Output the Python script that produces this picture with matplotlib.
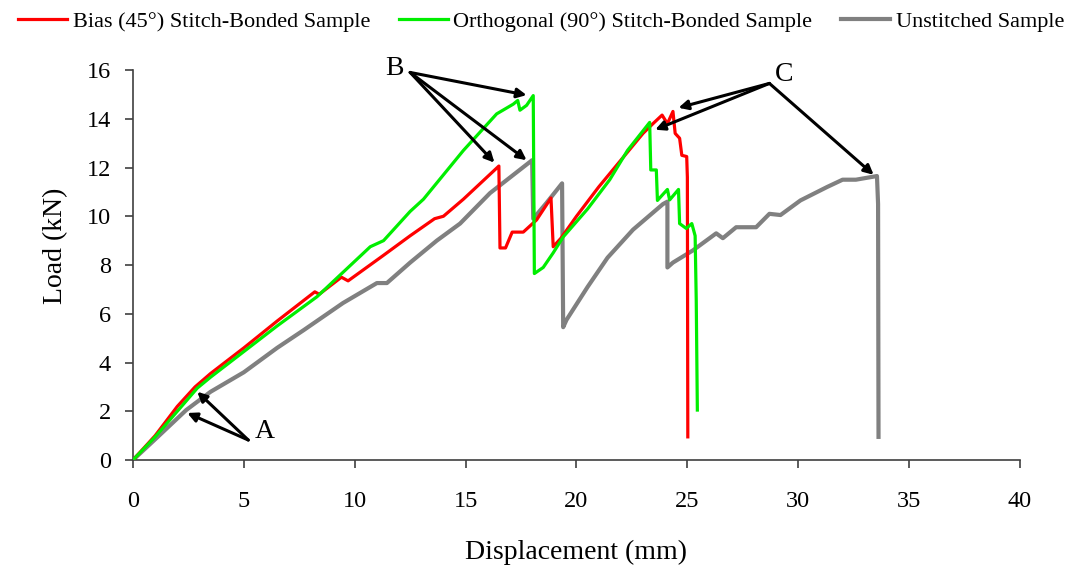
import matplotlib
matplotlib.use("Agg")
import matplotlib.pyplot as plt

plt.rcParams['font.family'] = ['Liberation Serif', 'DejaVu Serif']

# Bias (45°) stitch-bonded sample
bias_x = [0, 1.0, 2.0, 2.8, 3.5, 5.0, 6.5, 8.2, 8.4, 9.4, 9.7, 11.3, 12.5, 13.6, 14.0,
          14.9, 16.5, 16.55, 16.8, 17.1, 17.6, 18.2, 18.85, 18.95, 19.3, 20.0, 21.0,
          22.0, 23.0, 23.45, 23.86, 24.1, 24.35, 24.45, 24.65, 24.75, 24.97, 25.0, 25.02]
bias_y = [0, 1.0, 2.2, 3.0, 3.55, 4.6, 5.7, 6.9, 6.8, 7.5, 7.35, 8.4, 9.2, 9.9, 10.0,
          10.7, 12.06, 8.7, 8.7, 9.35, 9.35, 9.85, 10.75, 8.75, 9.1, 10.0, 11.2,
          12.3, 13.4, 13.8, 14.15, 13.8, 14.3, 13.4, 13.2, 12.5, 12.45, 11.6, 0.95]

# Orthogonal (90°) stitch-bonded sample
orth_x = [0, 1.0, 2.0, 2.9, 3.5, 5.0, 6.5, 8.3, 10.7, 11.3, 12.5, 13.1, 14.9, 16.4,
          17.15, 17.35, 17.45, 17.75, 18.05, 18.1, 18.5, 18.95, 19.4, 20.5, 21.5,
          22.3, 23.3, 23.35, 23.6, 23.65, 24.1, 24.2, 24.6, 24.65, 24.95, 25.2, 25.35,
          25.4, 25.45]
orth_y = [0, 0.95, 2.0, 2.95, 3.4, 4.45, 5.5, 6.7, 8.75, 9.0, 10.2, 10.7, 12.7, 14.2,
          14.6, 14.75, 14.35, 14.55, 14.95, 7.65, 7.9, 8.5, 9.15, 10.3, 11.5,
          12.7, 13.85, 11.9, 11.9, 10.65, 11.1, 10.67, 11.1, 9.7, 9.5, 9.7, 9.2,
          6.55, 2.05]

# Unstitched sample
uns_x = [0, 1.0, 2.4, 3.5, 5.0, 6.5, 7.7, 9.47, 11.0, 11.45, 12.5, 13.7, 14.75, 16.1,
         18.0, 18.05, 18.65, 19.35, 19.4, 19.55, 20.5, 21.4, 22.55, 23.9, 24.1, 24.1,
         24.35, 25.25, 26.3, 26.6, 27.2, 28.1, 28.7, 29.2, 30.1, 31.3, 32.0, 32.6,
         33.55, 33.6, 33.62]
uns_y = [0, 0.85, 2.05, 2.8, 3.6, 4.6, 5.33, 6.44, 7.26, 7.26, 8.1, 9.0, 9.7, 10.95,
         12.3, 9.9, 10.55, 11.35, 5.45, 5.75, 7.1, 8.3, 9.45, 10.5, 10.6, 7.9,
         8.1, 8.6, 9.3, 9.1, 9.55, 9.55, 10.1, 10.05, 10.65, 11.2, 11.5, 11.5,
         11.65, 10.5, 0.95]

fig = plt.figure(figsize=(10.82, 5.65), dpi=100)
ax = fig.add_axes([0.1229, 0.1858, 0.8198, 0.6903])

ax.plot(uns_x, uns_y, color='#808080', lw=3.0, label='Unstitched Sample', zorder=2)
ax.plot(bias_x, bias_y, color='#ff0000', lw=2.3, label='Bias (45°) Stitch-Bonded Sample', zorder=3)
ax.plot(orth_x, orth_y, color='#00ee00', lw=2.3, label='Orthogonal (90°) Stitch-Bonded Sample', zorder=3)

ax.set_xlim(0, 40)
ax.set_ylim(0, 16)
ax.set_xticks(range(0, 41, 5))
ax.set_yticks(range(0, 17, 2))
ax.tick_params(labelsize=17.5, direction='out', length=6, width=1.2, color='#404040')
ax.tick_params(axis='x', pad=16)
ax.tick_params(axis='y', pad=10)
for s in ['top', 'right']:
    ax.spines[s].set_visible(False)
for s in ['left', 'bottom']:
    ax.spines[s].set_color('#404040')
    ax.spines[s].set_linewidth(1.2)
ax.set_xlabel('Displacement (mm)', fontsize=20)
ax.set_ylabel('Load (kN)', fontsize=20)
ax.xaxis.set_label_coords(0.5, -0.205)
ax.yaxis.set_label_coords(-0.073, 0.55)

arrow = dict(arrowstyle='-|>', color='black', lw=2.2, mutation_scale=14, shrinkA=0, shrinkB=0)

# A
for tgt in [(2.45, 1.93), (2.9, 2.8)]:
    ax.annotate('', xy=tgt, xytext=(5.2, 0.82), arrowprops=arrow)
ax.text(5.5, 1.15, 'A', fontsize=20, va='center', ha='left')

# B
for tgt in [(17.75, 14.97), (16.3, 12.2), (17.75, 12.3)]:
    ax.annotate('', xy=tgt, xytext=(12.5, 15.9), arrowprops=arrow)
ax.text(12.2, 16.05, 'B', fontsize=20, va='center', ha='right', clip_on=False)

# C
for tgt in [(33.4, 11.7), (24.6, 14.45), (23.55, 13.55)]:
    ax.annotate('', xy=tgt, xytext=(28.7, 15.45), arrowprops=arrow)
ax.text(28.95, 15.8, 'C', fontsize=20, va='center', ha='left')

h, l = ax.get_legend_handles_labels()
order = [1, 2, 0]
fig.legend([h[i] for i in order], [l[i] for i in order], loc='upper center',
           bbox_to_anchor=(0.5, 1.015), ncol=3, frameon=False, fontsize=16,
           handlelength=2.2, handletextpad=0.25, columnspacing=1.3)

fig.savefig('out.png', dpi=100)
